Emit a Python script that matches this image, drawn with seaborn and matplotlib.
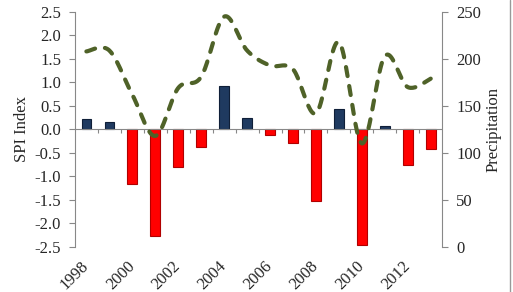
import numpy as np
import pandas as pd
import matplotlib
matplotlib.use("Agg")
import matplotlib.pyplot as plt
import seaborn as sns

years = list(range(1998, 2014))
spi = [0.22, 0.16, -1.16, -2.28, -0.80, -0.37, 0.92, 0.24, -0.13, -0.29,
       -1.52, 0.44, -2.46, 0.07, -0.75, -0.41]
precip = [208, 209, 162, 118, 169, 181, 245, 209, 193, 189,
          142, 218, 110, 203, 170, 179]
xtick_labels = ["1998", "2000", "2002", "2004", "2006", "2008", "2010", "2012"]

sns.set_style("white")
plt.rcParams['font.family'] = ['Liberation Serif', 'DejaVu Serif']

fig = plt.figure(figsize=(5.13, 2.92), dpi=100)
ax = fig.add_axes([0.146, 0.155, 0.716, 0.804])

df = pd.DataFrame({"year": [str(y) for y in years], "spi": spi,
                   "sign": ["pos" if v >= 0 else "neg" for v in spi]})
sns.barplot(data=df, x="year", y="spi", hue="sign", dodge=False, width=0.42,
            palette={"pos": "#1F3A60", "neg": "#FF0000"}, legend=False, ax=ax,
            saturation=1, linewidth=0.8, zorder=3)
for p in ax.patches:
    h = p.get_height()
    p.set_edgecolor("#0F1F38" if h >= 0 else "#B00000")

n = len(years)
ax.set_xlim(-0.5, n - 0.5)
ax.set_ylim(-2.5, 2.5)
yt = np.arange(-2.5, 2.51, 0.5)
ax.set_yticks(yt)
ax.set_yticklabels([f"{v:.1f}" for v in yt], fontsize=12)
ax.set_xticks([years.index(int(t)) for t in xtick_labels])
ax.set_xticklabels(xtick_labels, rotation=45, ha="right", va="center",
                   rotation_mode="anchor", fontsize=12)
ax.tick_params(axis="x", length=0, pad=12)
ax.tick_params(axis="y", length=4, width=0.8, color="#888888", direction="out",
               left=True, pad=6)
ax.set_xlabel("")
ax.set_ylabel("SPI Index", fontsize=12, labelpad=3)
for s in ["top", "right", "bottom"]:
    ax.spines[s].set_visible(False)
ax.spines["left"].set_color("#888888")
ax.axhline(0, color="#888888", lw=0.8, zorder=4)
bounds = np.arange(0.5, n - 0.5, 1.0)
ax.vlines(bounds, -0.07, 0, color="#888888", lw=0.8, zorder=4)

# secondary axis with smoothed precipitation line
ax2 = ax.twinx()
x = np.arange(n, dtype=float)
y = np.array(precip, dtype=float)
xp = np.concatenate([[x[0]], x, [x[-1]]])
yp = np.concatenate([[y[0]], y, [y[-1]]])
xs, ys = [], []
for i in range(n - 1):
    p0, p1, p2, p3 = [np.array([xp[i + k], yp[i + k]]) for k in range(4)]
    t = np.linspace(0, 1, 25)[:, None]
    pts = 0.5 * ((2 * p1) + (-p0 + p2) * t + (2 * p0 - 5 * p1 + 4 * p2 - p3) * t ** 2
                 + (-p0 + 3 * p1 - 3 * p2 + p3) * t ** 3)
    xs.extend(pts[:, 0]); ys.extend(pts[:, 1])
ax2.plot(xs, ys, color="#4F6228", lw=3.0, linestyle=(0, (2.2, 2.4)),
         dash_capstyle="round", solid_capstyle="round")
ax2.set_ylim(0, 250)
ax2.set_yticks(np.arange(0, 251, 50))
ax2.set_yticklabels([str(v) for v in range(0, 251, 50)], fontsize=12)
ax2.tick_params(axis="y", length=4, width=0.8, color="#888888", direction="out",
                right=True, pad=6)
ax2.set_ylabel("Precipitation", fontsize=12, labelpad=3)
for s in ["top", "left", "bottom"]:
    ax2.spines[s].set_visible(False)
ax2.spines["right"].set_color("#888888")
ax2.grid(False)
ax.grid(False)

fig.add_artist(plt.Line2D([510 / 513, 510 / 513], [0, 1], color="#999999", lw=1,
                          transform=fig.transFigure))

fig.savefig("out.png", dpi=100)
